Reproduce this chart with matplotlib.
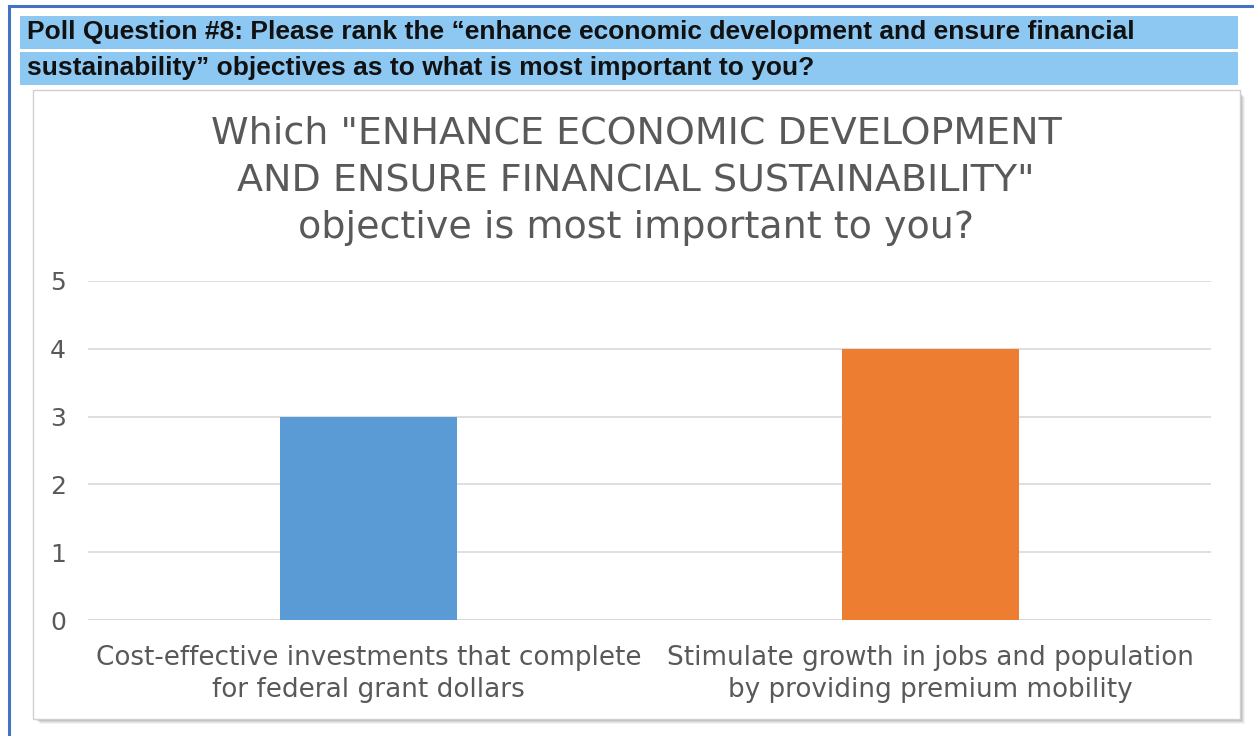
import matplotlib.pyplot as plt
from matplotlib.patches import Rectangle

W, H = 1254, 736

header_lines = [
    "Poll Question #8: Please rank the \u201cenhance economic development and ensure financial",
    "sustainability\u201d objectives as to what is most important to you?",
]
title_lines = [
    'Which "ENHANCE ECONOMIC DEVELOPMENT',
    'AND ENSURE FINANCIAL SUSTAINABILITY"',
    "objective is most important to you?",
]
categories = [
    "Cost-effective investments that complete\nfor federal grant dollars",
    "Stimulate growth in jobs and population\nby providing premium mobility",
]
counts = [3, 4]
bar_colors = ["#5B9BD5", "#ED7D31"]
y_ticks = [0, 1, 2, 3, 4, 5]

TEXT_GREY = "#595959"
FONT = "DejaVu Sans"


def px_rect(x0, y0, x1, y1):
    # pixel box (top-left origin) -> figure fraction rect
    return (x0 / W, 1 - y1 / H, (x1 - x0) / W, (y1 - y0) / H)


fig = plt.figure(figsize=(W / 100, H / 100), dpi=100)
fig.patch.set_facecolor("white")

# outer page frame
fig.add_artist(plt.Line2D([9 / W, 9 / W], [0, 1 - 6 / H], color="#4472C4", lw=2.2))
fig.add_artist(plt.Line2D([9 / W, 1], [1 - 6 / H, 1 - 6 / H], color="#4472C4", lw=2.2))

# header bands
for i, line in enumerate(header_lines):
    y0 = 16 + i * 36
    x, y, w, h = px_rect(20, y0, 1238, y0 + 33)
    fig.add_artist(Rectangle((x, y), w, h, transform=fig.transFigure,
                             facecolor="#8DC8F2", edgecolor="none", zorder=-2))
    fig.text(27 / W, 1 - (y0 + 16) / H, line, fontsize=19, fontweight="bold",
             family="Liberation Sans", color="#111111", va="center", ha="left")

# chart box with soft shadow
for k, a in enumerate([0.08, 0.12, 0.16, 0.22, 0.28]):
    off = 5 - k
    x, y, w, h = px_rect(33 + off + 2, 90 + off + 2, 1240 + off, 719 + off)
    fig.add_artist(Rectangle((x, y), w, h, transform=fig.transFigure,
                             facecolor="#7F7F7F", alpha=a, edgecolor="none", zorder=-3))
x, y, w, h = px_rect(33, 90, 1240, 719)
fig.add_artist(Rectangle((x, y), w, h, transform=fig.transFigure,
                         facecolor="white", edgecolor="#D0D0D0", lw=1, zorder=-1))

# chart title
for i, line in enumerate(title_lines):
    fig.text(636 / W, 1 - (134 + i * 47) / H, line, fontsize=27.4, family=FONT,
             color=TEXT_GREY, ha="center", va="center")

# plot area
ax = fig.add_axes(px_rect(88, 281, 1211, 620))
ax.set_zorder(5)
ax.set_facecolor("none")
x_pos = list(range(len(categories)))
ax.bar(x_pos, counts, width=0.315, color=bar_colors, zorder=3)
ax.set_xlim(-0.5, len(categories) - 0.5)
ax.set_ylim(0, 5)
ax.set_yticks(y_ticks)
ax.set_xticks(x_pos)
ax.set_xticklabels(categories, fontsize=18.9, family=FONT, color=TEXT_GREY,
                   linespacing=1.3)
ax.tick_params(axis="y", labelsize=18, labelcolor=TEXT_GREY, length=0, pad=16)
ax.tick_params(axis="x", length=0, pad=18)
for t in ax.get_yticklabels():
    t.set_family(FONT)
ax.grid(axis="y", color="#D9D9D9", lw=1.2, zorder=0)
for s in ax.spines.values():
    s.set_visible(False)
ax.axhline(0, color="#D9D9D9", lw=1.2, zorder=1)

fig.savefig("out.png", dpi=100)
